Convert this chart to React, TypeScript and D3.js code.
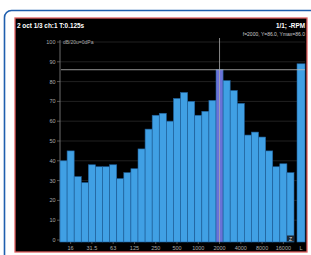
import React from 'react'
import * as d3 from 'd3'

// 1/3 octave band centres and levels (dB)
const bands = ['12.5','16','20','25','31.5','40','50','63','80','100','125','160','200','250','315','400','500','630','800','1000','1250','1600','2000','2500','3150','4000','5000','6300','8000','10000','12500','16000','20000']
const levels = [40,45,32,29,38,37,37,38,31,34,36,46,56,63,64,60,71.5,74.5,70,63,65,70.5,86,80.5,75.5,69,53,54.5,52,45,37,38.5,34]
const totalLabel = ['L']
const totalLevel = [89]
const xTickLabels = ['16','31.5','63','125','250','500','1000','2000','4000','8000','16000']
const yTicks = [0,10,20,30,40,50,60,70,80,90,100]
const cursorBand = '2000'
const cursorValue = 86

const W = 311
const H = 255

const App = () => {
  const x = d3.scaleBand().domain(bands).range([60, 294]).padding(0)
  const xL = d3.scaleBand().domain(totalLabel).range([297, 305]).padding(0)
  const y = d3.scaleLinear().domain([0, 100]).range([240, 42])
  const bw = x.bandwidth()
  const font = 'Liberation Sans, Arial, sans-serif'

  return (
    <svg width={W} height={H} style={{position:'absolute', left:0, top:0}} fontFamily={font}>
      <rect width={W} height={H} fill="#fff" />
      {/* outer blue frame */}
      <rect x={4.5} y={10.5} width={330} height={270} rx={7} fill="none" stroke="#1f5fae" strokeWidth={1.6} />
      {/* panel */}
      <rect x={15} y={18} width={292} height={234} fill="#000" stroke="#e06060" strokeWidth={1.3} />

      <text x={17} y={27.5} fill="#fff" fontSize={6.4} fontWeight="bold">2 oct 1/3 ch:1 T:0.125s</text>
      <text x={305} y={27.5} fill="#fff" fontSize={6.4} fontWeight="bold" textAnchor="end">1/1; -RPM</text>
      <text x={305} y={35.5} fill="#ccc" fontSize={5} textAnchor="end">f=2000, Y=86.0, Ymax=86.0</text>

      {/* grid */}
      {yTicks.filter(t => t > 0).map(t => (
        <line key={'g'+t} x1={60} x2={305} y1={y(t)} y2={y(t)} stroke="#2a2a2a" strokeWidth={0.8} />
      ))}

      {/* y axis */}
      <line x1={60} x2={60} y1={40} y2={242} stroke="#888" strokeWidth={0.8} />
      {yTicks.map(t => (
        <g key={'y'+t}>
          <line x1={57} x2={60} y1={y(t)} y2={y(t)} stroke="#888" strokeWidth={0.6} />
          <text x={55.5} y={y(t)} dy="0.35em" fill="#aaa" fontSize={5.5} textAnchor="end">{t}</text>
        </g>
      ))}
      <text x={63} y={44} fill="#aaa" fontSize={5}>dB/20u=0dPa</text>

      {/* bars */}
      {bands.map((b, i) => (
        <rect key={b} x={x(b)} y={y(levels[i])} width={bw} height={242 - y(levels[i])}
          fill={b === cursorBand ? '#6a72d8' : '#40a0e4'} stroke="#1f5f9a" strokeWidth={0.6} />
      ))}
      {totalLabel.map((b, i) => (
        <rect key={b} x={xL(b)} y={y(totalLevel[i])} width={xL.bandwidth()} height={242 - y(totalLevel[i])}
          fill="#40a0e4" stroke="#1f5f9a" strokeWidth={0.6} />
      ))}

      {/* cursor */}
      <line x1={61} x2={305} y1={y(cursorValue)} y2={y(cursorValue)} stroke="#bbb" strokeWidth={0.8} />
      <line x1={x(cursorBand)! + bw / 2} x2={x(cursorBand)! + bw / 2} y1={38} y2={242} stroke="#aaa" strokeWidth={0.8} />

      {/* weighting marker */}
      <rect x={287} y={235.5} width={7} height={6} fill="#1c2733" />
      <text x={290.5} y={240.5} fill="#ddd" fontSize={5} textAnchor="middle">Z</text>

      {/* x axis */}
      {xTickLabels.map(l => (
        <g key={'x'+l}>
          <line x1={x(l)! + bw / 2} x2={x(l)! + bw / 2} y1={242} y2={244} stroke="#888" strokeWidth={0.6} />
          <text x={x(l)! + bw / 2} y={249.5} fill="#aaa" fontSize={5.5} textAnchor="middle">{l}</text>
        </g>
      ))}
      {totalLabel.map(l => (
        <text key={'xl'+l} x={xL(l)! + xL.bandwidth() / 2} y={249.5} fill="#aaa" fontSize={5.5} textAnchor="middle">{l}</text>
      ))}
    </svg>
  )
}

export default App
